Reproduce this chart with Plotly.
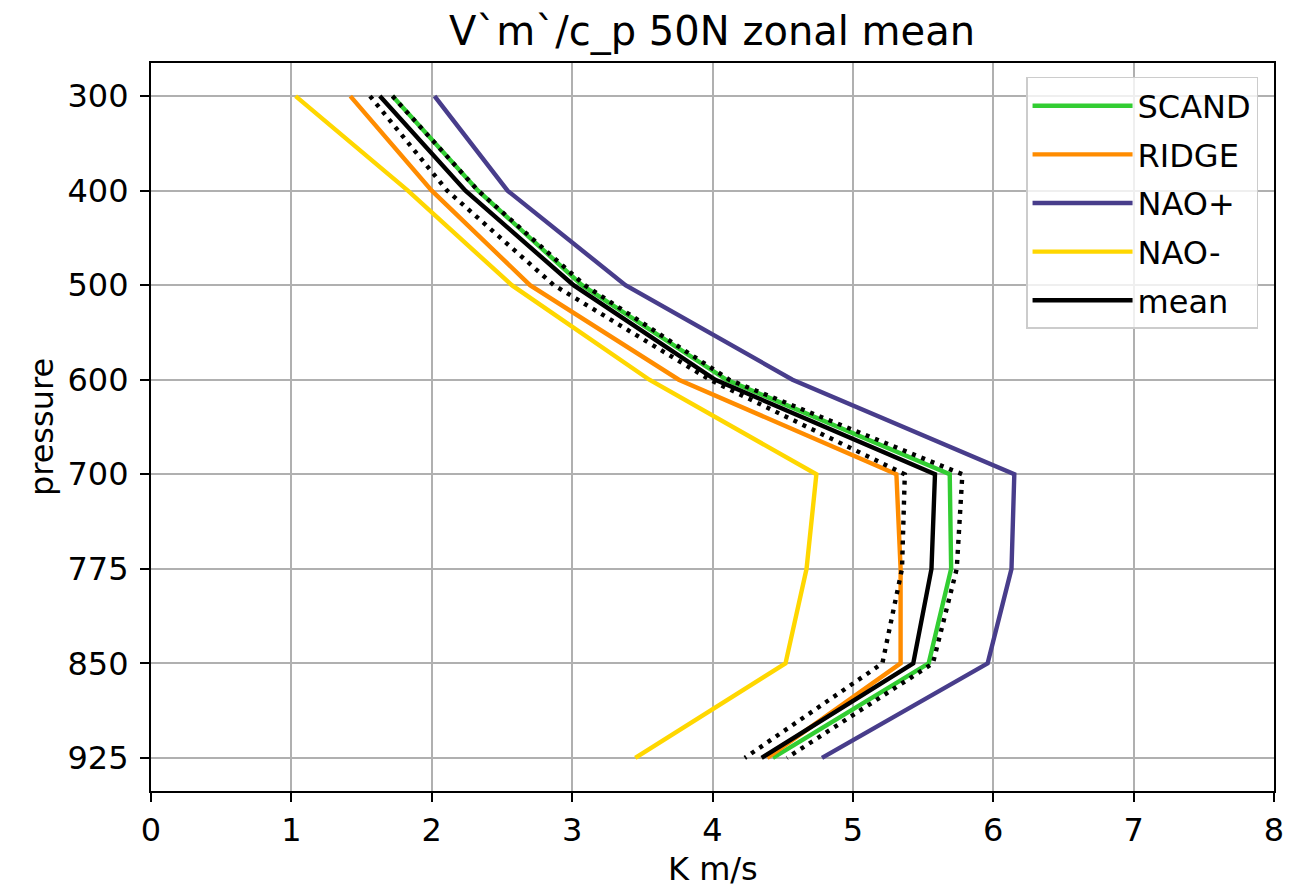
import plotly.graph_objects as go

levels = ["300", "400", "500", "600", "700", "775", "850", "925"]
scand = [1.72, 2.33, 3.07, 4.10, 5.69, 5.70, 5.54, 4.43]
ridge = [1.42, 2.00, 2.70, 3.76, 5.31, 5.34, 5.34, 4.39]
nao_pos = [2.02, 2.54, 3.38, 4.57, 6.15, 6.13, 5.96, 4.78]
nao_neg = [1.03, 1.83, 2.57, 3.55, 4.74, 4.67, 4.52, 3.45]
mean = [1.63, 2.24, 3.01, 4.02, 5.585, 5.56, 5.43, 4.35]
mean_lower = [1.56, 2.11, 2.87, 3.98, 5.37, 5.35, 5.21, 4.23]
mean_upper = [1.72, 2.33, 3.09, 4.12, 5.78, 5.74, 5.57, 4.53]
x_ticks = [0, 1, 2, 3, 4, 5, 6, 7, 8]

series = [
    ("SCAND", scand, "#32CD32"),
    ("RIDGE", ridge, "#FF8C00"),
    ("NAO+", nao_pos, "#483D8B"),
    ("NAO-", nao_neg, "#FFD700"),
    ("mean", mean, "#000000"),
]

FONT = "DejaVu Sans"
LW = 4.4
fig = go.Figure()
for i, (name, vals, col) in enumerate(series):
    fig.add_trace(go.Scatter(x=vals, y=levels, mode="lines", name=name,
                             legendgroup=f"g{i}",
                             line=dict(color=col, width=LW)))
for vals in (mean_lower, mean_upper):
    fig.add_trace(go.Scatter(x=vals, y=levels, mode="lines", showlegend=False,
                             line=dict(color="black", width=LW, dash="4px,6px")))

axis_common = dict(showline=True, linecolor="black", linewidth=2.2, mirror=True,
                   showgrid=True, gridcolor="#b0b0b0", gridwidth=2.2,
                   ticks="outside", ticklen=9, tickwidth=2.2, tickcolor="black",
                   tickfont=dict(family=FONT, size=32, color="black"),
                   zeroline=False, automargin=False)

fig.update_layout(
    width=1307, height=891,
    margin=dict(l=151, r=33, t=63, b=100),
    plot_bgcolor="white", paper_bgcolor="white",
    title=dict(text="V`m`/c_p 50N zonal mean", x=712/1307, xanchor="center",
               y=1 - 31/891, yanchor="middle",
               font=dict(family=FONT, size=40, color="black")),
    xaxis=dict(range=[0, 8], tickvals=x_ticks, **axis_common),
    yaxis=dict(type="category", categoryorder="array", categoryarray=levels,
               range=[7.35, -0.35], ticklabelstandoff=5,
               title=dict(text="pressure", font=dict(family=FONT, size=32, color="black"), standoff=4),
               **axis_common),
    legend=dict(x=0.9858, xanchor="right", y=0.9808, yanchor="top",
                bgcolor="rgba(255,255,255,0.8)", bordercolor="#cccccc", borderwidth=1.5,
                font=dict(family=FONT, size=32, color="black"),
                tracegroupgap=4, traceorder="grouped", itemwidth=100),
    showlegend=True,
    annotations=[dict(text="K m/s", xref="paper", yref="paper", x=0.5, y=-78/728,
                      xanchor="center", yanchor="middle", showarrow=False,
                      font=dict(family=FONT, size=32, color="black"))],
)

fig.write_html("out.html")
